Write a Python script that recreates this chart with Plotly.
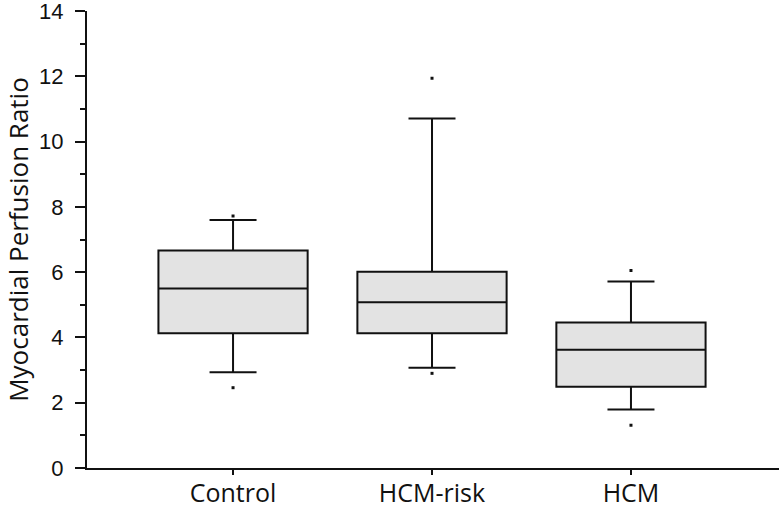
import plotly.graph_objects as go

categories = ["Control", "HCM-risk", "HCM"]
q1 = [4.13, 4.13, 2.49]
median = [5.50, 5.08, 3.62]
q3 = [6.66, 6.01, 4.46]
lowerfence = [2.93, 3.07, 1.79]
upperfence = [7.60, 10.71, 5.71]

outlier_x = ["Control", "Control", "HCM-risk", "HCM-risk", "HCM", "HCM"]
outlier_y = [7.72, 2.46, 11.94, 2.90, 6.05, 1.31]

y_ticks = [0, 2, 4, 6, 8, 10, 12, 14]

fig = go.Figure()
fig.add_trace(go.Box(
    x=categories, q1=q1, median=median, q3=q3,
    lowerfence=lowerfence, upperfence=upperfence,
    width=0.75, whiskerwidth=0.315,
    fillcolor="#e3e3e3",
    line=dict(color="#111111", width=2),
    boxpoints=False, showlegend=False, hoverinfo="skip",
))
fig.add_trace(go.Scatter(
    x=outlier_x, y=outlier_y, mode="markers",
    marker=dict(symbol="square", size=3, color="#111111", line=dict(width=0)),
    showlegend=False, hoverinfo="skip",
))

fig.update_layout(
    width=779, height=514,
    margin=dict(l=87, r=0, t=11, b=46, autoexpand=False),
    paper_bgcolor="white", plot_bgcolor="white",
    xaxis=dict(
        type="category", range=[-0.734, 2.744], automargin=False,
        showgrid=False, zeroline=False,
        showline=True, linecolor="#111111", linewidth=2,
        ticks="outside", ticklen=5, tickwidth=2, tickcolor="#111111",
        tickfont=dict(family="Open Sans", size=25, color="#111111"),
        ticklabelstandoff=-3,
    ),
    yaxis=dict(
        range=[0, 14.0001], tickvals=y_ticks, automargin=False,
        showgrid=False, zeroline=False,
        showline=True, linecolor="#111111", linewidth=2,
        ticks="outside", ticklen=10, tickwidth=2, tickcolor="#111111",
        tickfont=dict(family="Liberation Sans", size=22, color="#111111"),
        ticklabelstandoff=7, ticklabeloverflow="allow",
        minor=dict(dtick=1, tick0=0, ticks="outside", ticklen=5, tickwidth=2, tickcolor="#111111", showgrid=False),
        title=dict(text="Myocardial Perfusion Ratio",
                   font=dict(family="Open Sans", size=26, color="#111111")),
    ),
)

fig.write_html(
    "out.html",
    config={"displayModeBar": False, "staticPlot": True},
    post_script="document.body.style.margin='0';document.body.style.overflow='hidden';",
)
